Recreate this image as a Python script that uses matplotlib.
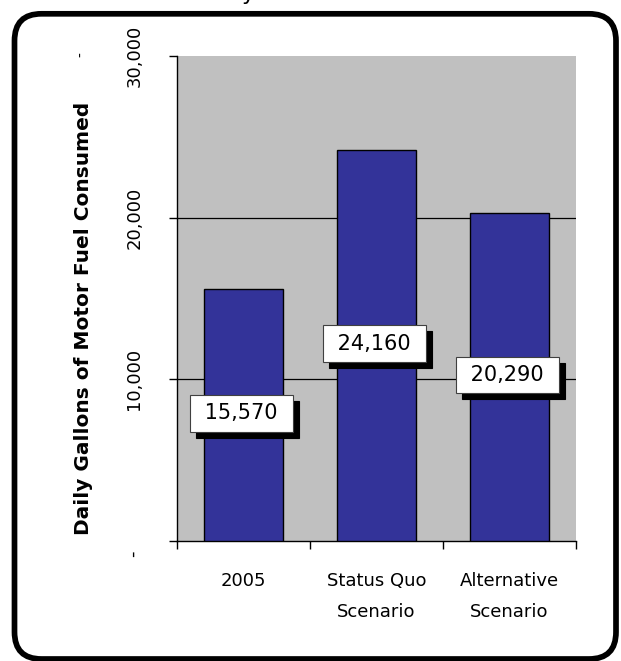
import numpy as np
import matplotlib
matplotlib.use("Agg")
import matplotlib.pyplot as plt
from matplotlib.patches import FancyBboxPatch

# data
categories = ["2005", "Status Quo\nScenario", "Alternative\nScenario"]
values = [15570, 24160, 20290]
y_ticks = [0, 10000, 20000, 30000]
y_tick_labels = ["", "10,000", "20,000", "30,000"]
y_label = "Daily Gallons of Motor Fuel Consumed"

BAR_COLOR = "#333399"
PLOT_BG = "#C0C0C0"

W, H = 621, 661
fig = plt.figure(figsize=(W / 100, H / 100), dpi=100)
fig.patch.set_facecolor("white")

# plot area in pixels: x 177..576, y 56..541
ax = fig.add_axes([177 / W, 1 - 541 / H, (576 - 177) / W, (541 - 56) / H])
ax.set_facecolor(PLOT_BG)

x = np.arange(len(values))
ax.bar(x, values, width=0.6, color=BAR_COLOR, edgecolor="black", lw=1, zorder=3)
ax.set_xlim(-0.5, len(values) - 0.5)
ax.set_ylim(y_ticks[0], y_ticks[-1])

# gridlines only between the ends
for t in y_ticks[1:-1]:
    ax.axhline(t, color="black", lw=0.9, zorder=1)

for s in ["top", "right"]:
    ax.spines[s].set_visible(False)
for s in ["left", "bottom"]:
    ax.spines[s].set_color("black")
    ax.spines[s].set_linewidth(1.0)

ax.set_yticks(y_ticks)
ax.set_yticklabels(y_tick_labels, rotation=90, va="center", fontsize=13,
                   family="DejaVu Sans")
ax.tick_params(axis="y", direction="out", length=5.8, width=1, pad=18.5)

# category boundaries as tick marks, names as minor labels
ax.set_xticks(np.arange(len(values) + 1) - 0.5)
ax.set_xticklabels([])
ax.set_xticks(x, minor=True)
ax.set_xticklabels(categories, minor=True, fontsize=13, linespacing=1.95,
                   family="DejaVu Sans")
ax.tick_params(axis="x", which="major", direction="out", length=5.8, width=1)
ax.tick_params(axis="x", which="minor", length=0, pad=22)

# zero tick shown as a dash
ax.annotate("-", xy=(0, 0), xycoords="axes fraction", xytext=(-31.5, -9.5),
            textcoords="offset points", rotation=90, ha="center", va="center",
            fontsize=13)

# value labels: white boxes with black drop shadow (shadow 6 px right/down)
for i, v in zip(x, values):
    txt = f" {v:,} "
    ax.annotate(txt, xy=(i, v / 2), xytext=(2.9, -2.9), textcoords="offset points",
                ha="center", va="center", fontsize=15, color="black",
                bbox=dict(boxstyle="square,pad=0.4", fc="black", ec="black", lw=0.8),
                zorder=4)
    ax.annotate(txt, xy=(i, v / 2), xytext=(-1.4, 1.4), textcoords="offset points",
                ha="center", va="center", fontsize=15, color="black",
                bbox=dict(boxstyle="square,pad=0.4", fc="white", ec="#404040", lw=0.8),
                zorder=5)

fig.text(84 / W, 1 - 318 / H, y_label, rotation=90, ha="center", va="center",
         fontsize=14.5, fontweight="bold", family="DejaVu Sans")

# clipped remnants of surrounding text
fig.text(81 / W, 1 - 55 / H, "-", rotation=90, ha="center", va="center", fontsize=10)
fig.text(248 / W, 1.0005, "y", ha="center", va="baseline", fontsize=16)

# rounded frame
frame = FancyBboxPatch((14.5 / 100, (H - 659) / 100), (616 - 14.5) / 100, (659 - 13.8) / 100,
                       boxstyle="round,pad=0,rounding_size=0.27",
                       transform=fig.dpi_scale_trans, fill=False, ec="black", lw=4.1)
fig.add_artist(frame)

fig.savefig("out.png", dpi=100)
